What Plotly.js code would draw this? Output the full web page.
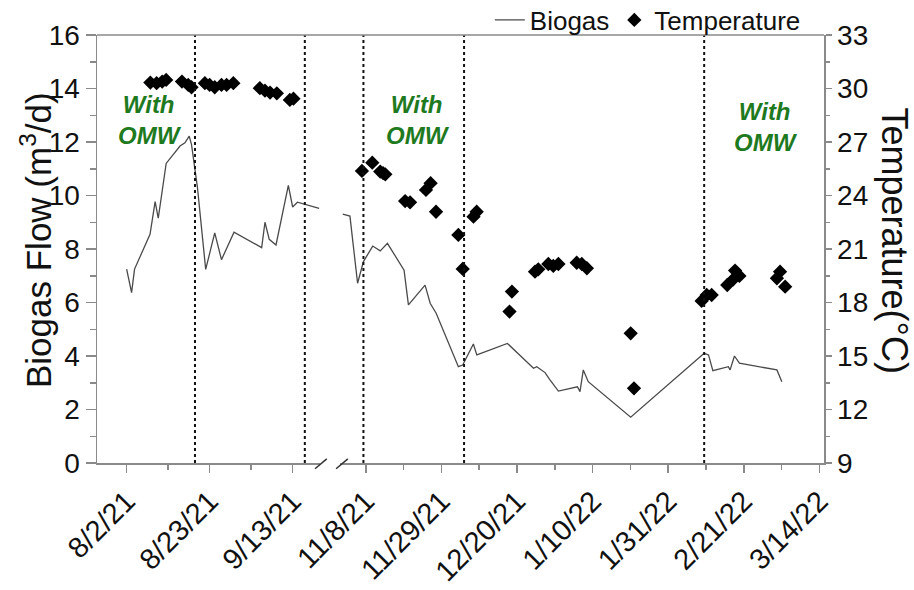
<!DOCTYPE html>
<html><head><meta charset="utf-8">
<script src="https://cdn.plot.ly/plotly-3.0.1.min.js"></script>
<style>html,body{margin:0;padding:0;background:#fff}</style>
</head><body>
<div id="chart" style="width:914px;height:590px"></div>
<script>
// ---- Data ----
// Biogas flow (m3/d), period 1 (Aug–Sep 2021)
const biogasDates1 = ['2021-08-02','2021-08-03 06:00','2021-08-04','2021-08-07 22:00','2021-08-09 05:00','2021-08-10','2021-08-12','2021-08-15 12:00','2021-08-16 18:00','2021-08-17 20:00','2021-08-18 10:00','2021-08-19 22:00','2021-08-22','2021-08-24 07:00','2021-08-26','2021-08-29 04:00','2021-09-05 04:00','2021-09-06','2021-09-07 02:00','2021-09-08 19:00','2021-09-11 22:00','2021-09-13','2021-09-14 05:00','2021-09-19 17:00'];
const biogasFlow1 = [7.25,6.37,7.25,8.55,9.77,9.15,11.2,11.85,11.97,12.22,11.9,10.3,7.24,8.6,7.6,8.63,8.05,9.0,8.36,8.15,10.38,9.57,9.75,9.52];
// Biogas flow (m3/d), period 2 (Nov 2021 – Mar 2022)
const biogasDates2 = ['2021-11-01 14:00','2021-11-03 14:00','2021-11-05 17:00','2021-11-06 22:00','2021-11-07 08:00','2021-11-09 22:00','2021-11-12','2021-11-14','2021-11-18 15:00','2021-11-19 20:00','2021-11-24 11:00','2021-11-25 21:00','2021-11-27 13:00','2021-12-03 17:00','2021-12-04 22:00','2021-12-07 21:00','2021-12-08 20:00','2021-12-17 08:00','2021-12-24 14:00','2021-12-25 12:00','2021-12-27 19:00','2021-12-29 05:00','2021-12-31 12:00','2022-01-05 19:00','2022-01-06 12:00','2022-01-07 10:00','2022-01-08 19:00','2022-01-20 14:00','2022-02-10','2022-02-11 05:00','2022-02-12 10:00','2022-02-16 17:00','2022-02-17 05:00','2022-02-18 10:00','2022-02-19 19:00','2022-03-02 05:00','2022-03-03 14:00'];
const biogasFlow2 = [9.30,9.23,6.72,7.40,7.53,8.11,7.93,8.21,7.21,5.91,6.65,5.97,5.60,3.60,3.66,4.45,4.04,4.47,3.54,3.60,3.38,3.10,2.69,2.85,2.67,3.48,3.04,1.71,4.10,4.04,3.45,3.60,3.48,4.00,3.73,3.48,3.04];
// Temperature (°C), period 1
const tempDates1 = ['2021-08-08','2021-08-09 14:00','2021-08-11','2021-08-12','2021-08-16','2021-08-17 14:00','2021-08-18 10:00','2021-08-21 19:00','2021-08-23','2021-08-24 07:00','2021-08-26','2021-08-27 07:00','2021-08-29','2021-09-04 17:00','2021-09-06','2021-09-07 07:00','2021-09-09','2021-09-12 07:00','2021-09-13 05:00'];
const temperature1 = [30.33,30.30,30.39,30.48,30.39,30.2,30.07,30.30,30.2,30.07,30.2,30.2,30.3,30.02,29.88,29.77,29.73,29.36,29.43];
// Temperature (°C), period 2
const tempDates2 = ['2021-11-06 22:00','2021-11-09 19:00','2021-11-12','2021-11-12 19:00','2021-11-13 10:00','2021-11-18 22:00','2021-11-20 07:00','2021-11-24 17:00','2021-11-26','2021-11-27 12:00','2021-12-03 17:00','2021-12-04 22:00','2021-12-07 22:00','2021-12-08 19:00','2021-12-17 22:00','2021-12-18 14:00','2021-12-25','2021-12-25 22:00','2021-12-28 17:00','2021-12-30 02:00','2021-12-31 12:00','2022-01-05 14:00','2022-01-07','2022-01-08 10:00','2022-01-20 14:00','2022-01-21 12:00','2022-02-09 07:00','2022-02-10 17:00','2022-02-12 02:00','2022-02-16 10:00','2022-02-18 02:00','2022-02-18 14:00','2022-02-19 19:00','2022-03-02 05:00','2022-03-03 02:00','2022-03-04 12:00'];
const temperature2 = [25.38,25.84,25.34,25.25,25.19,23.69,23.62,24.31,24.69,23.09,21.79,19.88,22.81,23.09,17.49,18.61,19.73,19.86,20.16,20.05,20.16,20.23,20.16,19.92,16.27,13.19,18.09,18.42,18.42,18.98,19.3,19.79,19.49,19.36,19.73,18.89];
// OMW feeding boundaries (dotted lines)
const omwBounds1 = ['2021-08-19 07:00','2021-09-16 02:00'];
const omwBounds2 = ['2021-11-07 08:00','2021-12-05 07:00','2022-02-10'];
// Tick labels
const tickDates1 = ['2021-08-02','2021-08-23','2021-09-13'];
const tickLabels1 = ['8/2/21','8/23/21','9/13/21'];
const minorDates1 = ['2021-08-12 12:00','2021-09-02 12:00'];
const tickDates2 = ['2021-11-08','2021-11-29','2021-12-20','2022-01-10','2022-01-31','2022-02-21','2022-03-14'];
const tickLabels2 = ['11/8/21','11/29/21','12/20/21','1/10/22','1/31/22','2/21/22','3/14/22'];
const minorDates2 = ['2021-11-18 12:00','2021-12-09 12:00','2021-12-30 12:00','2022-01-20 12:00','2022-02-10 12:00','2022-03-03 12:00'];
const omwLabel = 'With<br>OMW';
const leftTitle = 'Biogas Flow (m<sup>3</sup>/d)';
const rightTitle = 'Temperature(°C)';

// ---- Styling ----
const FONT = 'Liberation Sans, Arial, sans-serif';
const GREY = '#8a8a8a';
const LINE = '#4a4a4a';
const GREEN = '#1f7a1f';

const lineStyle = {color: LINE, width: 1.3};
const markerStyle = {symbol: 'diamond', size: 11, color: '#000'};

const traces = [
  {x: biogasDates1, y: biogasFlow1, xaxis: 'x', yaxis: 'y', mode: 'lines', name: 'Biogas', line: lineStyle},
  {x: biogasDates2, y: biogasFlow2, xaxis: 'x2', yaxis: 'y', mode: 'lines', name: 'Biogas', line: lineStyle, showlegend: false},
  {x: tempDates1, y: temperature1, xaxis: 'x', yaxis: 'y2', mode: 'markers', name: 'Temperature', marker: markerStyle},
  {x: tempDates2, y: temperature2, xaxis: 'x2', yaxis: 'y2', mode: 'markers', name: 'Temperature', marker: markerStyle, showlegend: false}
];

const xCommon = {
  type: 'date', showline: true, linecolor: GREY, linewidth: 1.5,
  ticks: 'outside', ticklen: 8, tickcolor: GREY, tickwidth: 1.5,
  tickangle: -45, tickfont: {family: FONT, size: 29, color: '#111'},
  showgrid: false, zeroline: false, anchor: 'y', tickmode: 'array', automargin: false
};

const shapes = [];
omwBounds1.forEach(d => shapes.push({type: 'line', xref: 'x', yref: 'y', x0: d, x1: d, y0: 0, y1: 16, line: {color: '#111', width: 2, dash: 'dot'}}));
omwBounds2.forEach(d => shapes.push({type: 'line', xref: 'x2', yref: 'y', x0: d, x1: d, y0: 0, y1: 16, line: {color: '#111', width: 2, dash: 'dot'}}));
// top frame line (continuous)
shapes.push({type: 'line', xref: 'paper', yref: 'paper', x0: 0, x1: 1, y0: 1, y1: 1, line: {color: GREY, width: 1.5}});
// axis break marks
shapes.push({type: 'line', xref: 'paper', yref: 'paper', x0: 0.2999, x1: 0.3160, y0: -0.0135, y1: 0.0095, line: {color: '#333', width: 1.5}});
shapes.push({type: 'line', xref: 'paper', yref: 'paper', x0: 0.3289, x1: 0.3450, y0: -0.0135, y1: 0.0095, line: {color: '#333', width: 1.5}});

const omwFont = {family: FONT, size: 24, color: GREEN, weight: 'bold', style: 'italic'};
const omwAnno = (x, y) => ({text: omwLabel, xref: 'paper', yref: 'paper', x: x, y: y, xanchor: 'center', yanchor: 'middle', showarrow: false, font: omwFont, align: 'center'});
const annotations = [
  omwAnno(0.0729, 0.801),
  omwAnno(0.4415, 0.801),
  omwAnno(0.920, 0.785),
  {text: leftTitle, xref: 'paper', yref: 'paper', x: -0.0839, y: 0.521, xanchor: 'center', yanchor: 'middle', textangle: -90, showarrow: false, font: {family: FONT, size: 35, color: '#111'}},
  {text: rightTitle, xref: 'paper', yref: 'paper', x: 1.097, y: 0.521, xanchor: 'center', yanchor: 'middle', textangle: 90, showarrow: false, font: {family: FONT, size: 36, color: '#111'}}
];

const layout = {
  width: 914, height: 590,
  margin: {l: 97, r: 90, t: 35, b: 127, autoexpand: false},
  paper_bgcolor: '#fff', plot_bgcolor: '#fff',
  showlegend: true,
  legend: {orientation: 'h', x: 0.975, xanchor: 'right', y: 1.035, yanchor: 'middle', font: {family: FONT, size: 26, color: '#111'}, bgcolor: 'rgba(0,0,0,0)', traceorder: 'normal'},
  xaxis: Object.assign({}, xCommon, {
    domain: [0, 0.3067], range: ['2021-07-25 12:00', '2021-09-19 22:00'],
    tickvals: tickDates1, ticktext: tickLabels1,
    minor: {tickmode: 'array', tickvals: minorDates1, ticks: 'outside', ticklen: 5, tickcolor: GREY, tickwidth: 1.5}
  }),
  xaxis2: Object.assign({}, xCommon, {
    domain: [0.3343, 1], range: ['2021-10-31 20:00', '2022-03-15 07:00'],
    tickvals: tickDates2, ticktext: tickLabels2,
    minor: {tickmode: 'array', tickvals: minorDates2, ticks: 'outside', ticklen: 5, tickcolor: GREY, tickwidth: 1.5}
  }),
  yaxis: {
    range: [0, 16], tickmode: 'linear', tick0: 0, dtick: 2, anchor: 'x', automargin: false,
    showline: true, linecolor: GREY, linewidth: 1.5,
    ticks: 'outside', ticklen: 10, tickcolor: GREY, tickwidth: 1.5,
    minor: {dtick: 1, ticks: 'outside', ticklen: 6, tickcolor: GREY, tickwidth: 1.5},
    tickfont: {family: FONT, size: 28, color: '#111'},
    showgrid: false, zeroline: false
  },
  yaxis2: {
    range: [9, 33], tickmode: 'linear', tick0: 9, dtick: 3, overlaying: 'y', side: 'right', anchor: 'x2', automargin: false,
    showline: true, linecolor: GREY, linewidth: 1.5,
    ticks: 'outside', ticklen: 6, tickcolor: GREY, tickwidth: 1.5,
    minor: {dtick: 1.5, ticks: 'outside', ticklen: 4, tickcolor: GREY, tickwidth: 1.5},
    tickfont: {family: FONT, size: 28, color: '#111'},
    showgrid: false, zeroline: false
  },
  shapes: shapes,
  annotations: annotations
};

Plotly.newPlot('chart', traces, layout, {displayModeBar: false, staticPlot: true});
</script>
</body></html>
